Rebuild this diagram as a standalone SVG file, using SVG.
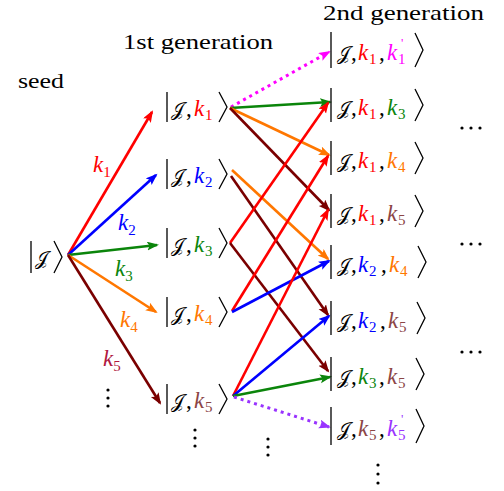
<svg xmlns="http://www.w3.org/2000/svg" width="504" height="491" viewBox="0 0 504 491">
<style>
text{font-family:'Liberation Serif','Times New Roman',Times,serif;fill:#000}
.h{font-size:22px}
.kt{font-size:23px}
.J{font-family:'DejaVu Serif','DejaVu Sans',serif;font-size:19px}
.k{font-style:italic}
.sb{font-size:15px}
.pr{font-size:13px}
.dl{stroke:#000;stroke-width:1.3;fill:none}
.ln{stroke-width:2.6;fill:none}
.dt{stroke-width:3;fill:none;stroke-dasharray:3 4}
.r{stroke:#ff0000}.b{stroke:#0000ff}.g{stroke:#0b850b}.o{stroke:#ff7700}.d{stroke:#7a0000}.m{stroke:#ff00ff}.p{stroke:#9933ff}
.dot{fill:#000}
</style>
<defs>
<marker id="aR" markerUnits="userSpaceOnUse" markerWidth="13" markerHeight="10" refX="10" refY="4.5" orient="auto"><path d="M0,0 L12,4.5 L0,9 L2.5,4.5z" fill="#ff0000"/></marker>
<marker id="aB" markerUnits="userSpaceOnUse" markerWidth="13" markerHeight="10" refX="10" refY="4.5" orient="auto"><path d="M0,0 L12,4.5 L0,9 L2.5,4.5z" fill="#0000ff"/></marker>
<marker id="aG" markerUnits="userSpaceOnUse" markerWidth="13" markerHeight="10" refX="10" refY="4.5" orient="auto"><path d="M0,0 L12,4.5 L0,9 L2.5,4.5z" fill="#0b850b"/></marker>
<marker id="aO" markerUnits="userSpaceOnUse" markerWidth="13" markerHeight="10" refX="10" refY="4.5" orient="auto"><path d="M0,0 L12,4.5 L0,9 L2.5,4.5z" fill="#ff7700"/></marker>
<marker id="aD" markerUnits="userSpaceOnUse" markerWidth="13" markerHeight="10" refX="10" refY="4.5" orient="auto"><path d="M0,0 L12,4.5 L0,9 L2.5,4.5z" fill="#7a0000"/></marker>
<marker id="aM" markerUnits="userSpaceOnUse" markerWidth="13" markerHeight="10" refX="10" refY="4.5" orient="auto"><path d="M0,0 L12,4.5 L0,9 L2.5,4.5z" fill="#ff00ff"/></marker>
<marker id="aP" markerUnits="userSpaceOnUse" markerWidth="13" markerHeight="10" refX="10" refY="4.5" orient="auto"><path d="M0,0 L12,4.5 L0,9 L2.5,4.5z" fill="#9933ff"/></marker>
</defs>

<g id="headings">
<text class="h" x="18" y="88" textLength="46" lengthAdjust="spacingAndGlyphs">seed</text>
<text class="h" x="123" y="49" textLength="150" lengthAdjust="spacingAndGlyphs">1st generation</text>
<text class="h" x="323" y="20" font-size="21" textLength="161" lengthAdjust="spacingAndGlyphs">2nd generation</text>
</g>

<g id="connectors">
<line class="ln r" x1="68" y1="255" x2="152" y2="112" marker-end="url(#aR)"/>
<line class="ln b" x1="68" y1="255" x2="156" y2="175" marker-end="url(#aB)"/>
<line class="ln g" x1="68" y1="255" x2="157" y2="245" marker-end="url(#aG)"/>
<line class="ln o" x1="68" y1="255" x2="156" y2="312" marker-end="url(#aO)"/>
<line class="ln d" x1="68" y1="255" x2="160" y2="403" marker-end="url(#aD)"/>

<line class="dt m" x1="231" y1="107" x2="329" y2="52" marker-end="url(#aM)"/>
<line class="ln g" x1="230" y1="108" x2="330" y2="102" marker-end="url(#aG)"/>
<line class="ln o" x1="230" y1="108" x2="329" y2="155" marker-end="url(#aO)"/>
<line class="ln d" x1="230" y1="108" x2="329" y2="210" marker-end="url(#aD)"/>

<line class="ln o" x1="232" y1="170" x2="328" y2="259" marker-end="url(#aO)"/>
<line class="ln d" x1="231" y1="176" x2="328" y2="315" marker-end="url(#aD)"/>

<line class="ln r" x1="230" y1="243" x2="328" y2="103" marker-end="url(#aR)"/>
<line class="ln d" x1="230" y1="243" x2="328" y2="371" marker-end="url(#aD)"/>

<line class="ln r" x1="232" y1="311" x2="328" y2="156" marker-end="url(#aR)"/>
<line class="ln b" x1="232" y1="312" x2="329" y2="261" marker-end="url(#aB)"/>

<line class="ln r" x1="233" y1="396" x2="328" y2="210" marker-end="url(#aR)"/>
<line class="ln b" x1="233" y1="396" x2="329" y2="316" marker-end="url(#aB)"/>
<line class="ln g" x1="233" y1="396" x2="330" y2="377" marker-end="url(#aG)"/>
<line class="dt p" x1="234" y1="397" x2="329" y2="427" marker-end="url(#aP)"/>
</g>

<g id="seed-labels">
<text class="kt" x="93" y="172"><tspan class="k" fill="#ff0000">k</tspan><tspan class="sb" fill="#ff0000" dy="5">1</tspan></text>
<text class="kt" x="118" y="230"><tspan class="k" fill="#0000ff">k</tspan><tspan class="sb" fill="#0000ff" dy="5">2</tspan></text>
<text class="kt" x="115" y="276"><tspan class="k" fill="#0b850b">k</tspan><tspan class="sb" fill="#0b850b" dy="5">3</tspan></text>
<text class="kt" x="120" y="327"><tspan class="k" fill="#ff7700">k</tspan><tspan class="sb" fill="#ff7700" dy="5">4</tspan></text>
<text class="kt" x="103" y="366"><tspan class="k" fill="#b01840">k</tspan><tspan class="sb" fill="#b01840" dy="5">5</tspan></text>
</g>

<g id="seed">
<path class="dl" d="M31,241 V273 M54,241 L62,257 L54,273"/>
<text class="kt" x="35" y="265"><tspan class="J" font-size="21">𝒥</tspan></text>
</g>

<g id="g1-k1">
<path class="dl" d="M167,92 V122 M219,92 L227,107 L219,122"/>
<text class="kt" x="171" y="116"><tspan class="J">𝒥</tspan><tspan x="186">,</tspan><tspan class="k" x="194" fill="#ff0000">k</tspan><tspan class="sb" x="205" dy="4" fill="#ff0000">1</tspan></text>
</g>
<g id="g1-k2">
<path class="dl" d="M167,159 V189 M219,159 L227,174 L219,189"/>
<text class="kt" x="171" y="183"><tspan class="J">𝒥</tspan><tspan x="186">,</tspan><tspan class="k" x="194" fill="#0000ff">k</tspan><tspan class="sb" x="205" dy="4" fill="#0000ff">2</tspan></text>
</g>
<g id="g1-k3">
<path class="dl" d="M167,228 V258 M219,228 L227,243 L219,258"/>
<text class="kt" x="171" y="252"><tspan class="J">𝒥</tspan><tspan x="186">,</tspan><tspan class="k" x="194" fill="#0b850b">k</tspan><tspan class="sb" x="205" dy="4" fill="#0b850b">3</tspan></text>
</g>
<g id="g1-k4">
<path class="dl" d="M167,297 V327 M219,297 L227,312 L219,327"/>
<text class="kt" x="171" y="321"><tspan class="J">𝒥</tspan><tspan x="186">,</tspan><tspan class="k" x="194" fill="#ff7700">k</tspan><tspan class="sb" x="205" dy="4" fill="#ff7700">4</tspan></text>
</g>
<g id="g1-k5">
<path class="dl" d="M167,384 V414 M219,384 L227,399 L219,414"/>
<text class="kt" x="171" y="408"><tspan class="J">𝒥</tspan><tspan x="186">,</tspan><tspan class="k" x="194" fill="#8b4545">k</tspan><tspan class="sb" x="205" dy="4" fill="#8b4545">5</tspan></text>
</g>

<g id="g2-k1k1p">
<path class="dl" d="M331,32 V68 M415,33 L423,50 L415,67"/>
<text class="kt" x="337" y="60"><tspan class="J">𝒥</tspan><tspan x="351">,</tspan><tspan class="k" x="358" fill="#ff0000">k</tspan><tspan class="sb" x="369" dy="4" fill="#ff0000">1</tspan><tspan x="379" dy="-4">,</tspan><tspan class="k" x="387" fill="#ff00ff">k</tspan><tspan class="sb" x="398" dy="4" fill="#ff00ff">1</tspan><tspan class="pr" x="401" dy="-17" fill="#ff00ff">'</tspan></text>
</g>
<g id="g2-k1k3">
<path class="dl" d="M331,88 V122 M415,89 L423,105 L415,121"/>
<text class="kt" x="337" y="115"><tspan class="J">𝒥</tspan><tspan x="351">,</tspan><tspan class="k" x="358" fill="#ff0000">k</tspan><tspan class="sb" x="369" dy="4" fill="#ff0000">1</tspan><tspan x="379" dy="-4">,</tspan><tspan class="k" x="387" fill="#0b850b">k</tspan><tspan class="sb" x="398" dy="4" fill="#0b850b">3</tspan></text>
</g>
<g id="g2-k1k4">
<path class="dl" d="M331,141 V175 M415,142 L423,158 L415,174"/>
<text class="kt" x="337" y="168"><tspan class="J">𝒥</tspan><tspan x="351">,</tspan><tspan class="k" x="358" fill="#ff0000">k</tspan><tspan class="sb" x="369" dy="4" fill="#ff0000">1</tspan><tspan x="379" dy="-4">,</tspan><tspan class="k" x="387" fill="#ff7700">k</tspan><tspan class="sb" x="398" dy="4" fill="#ff7700">4</tspan></text>
</g>
<g id="g2-k1k5">
<path class="dl" d="M331,194 V228 M415,195 L423,211 L415,227"/>
<text class="kt" x="337" y="221"><tspan class="J">𝒥</tspan><tspan x="351">,</tspan><tspan class="k" x="358" fill="#ff0000">k</tspan><tspan class="sb" x="369" dy="4" fill="#ff0000">1</tspan><tspan x="379" dy="-4">,</tspan><tspan class="k" x="387" fill="#8b4545">k</tspan><tspan class="sb" x="398" dy="4" fill="#8b4545">5</tspan></text>
</g>
<g id="g2-k2k4">
<path class="dl" d="M331,245 V279 M418,246 L426,262 L418,278"/>
<text class="kt" x="337" y="272"><tspan class="J">𝒥</tspan><tspan x="351">,</tspan><tspan class="k" x="358" fill="#0000ff">k</tspan><tspan class="sb" x="369" dy="4" fill="#0000ff">2</tspan><tspan x="381" dy="-4">,</tspan><tspan class="k" x="389" fill="#ff7700">k</tspan><tspan class="sb" x="400" dy="4" fill="#ff7700">4</tspan></text>
</g>
<g id="g2-k2k5">
<path class="dl" d="M331,301 V335 M417,302 L425,318 L417,334"/>
<text class="kt" x="337" y="328"><tspan class="J">𝒥</tspan><tspan x="351">,</tspan><tspan class="k" x="358" fill="#0000ff">k</tspan><tspan class="sb" x="369" dy="4" fill="#0000ff">2</tspan><tspan x="380" dy="-4">,</tspan><tspan class="k" x="388" fill="#8b4545">k</tspan><tspan class="sb" x="399" dy="4" fill="#8b4545">5</tspan></text>
</g>
<g id="g2-k3k5">
<path class="dl" d="M331,357 V391 M416,358 L424,374 L416,390"/>
<text class="kt" x="337" y="384"><tspan class="J">𝒥</tspan><tspan x="351">,</tspan><tspan class="k" x="358" fill="#0b850b">k</tspan><tspan class="sb" x="369" dy="4" fill="#0b850b">3</tspan><tspan x="379" dy="-4">,</tspan><tspan class="k" x="387" fill="#8b4545">k</tspan><tspan class="sb" x="398" dy="4" fill="#8b4545">5</tspan></text>
</g>
<g id="g2-k5k5p">
<path class="dl" d="M331,407 V445 M416,409 L424,426 L416,443"/>
<text class="kt" x="337" y="436"><tspan class="J">𝒥</tspan><tspan x="351">,</tspan><tspan class="k" x="358" fill="#8b4545">k</tspan><tspan class="sb" x="369" dy="4" fill="#8b4545">5</tspan><tspan x="379" dy="-4">,</tspan><tspan class="k" x="387" fill="#9933ff">k</tspan><tspan class="sb" x="398" dy="4" fill="#9933ff">5</tspan><tspan class="pr" x="401" dy="-17" fill="#9933ff">'</tspan></text>
</g>

<g id="ellipses">
<circle class="dot" cx="108" cy="390" r="1.6"/><circle class="dot" cx="108" cy="398" r="1.6"/><circle class="dot" cx="108" cy="406" r="1.6"/>
<circle class="dot" cx="195" cy="430" r="1.6"/><circle class="dot" cx="195" cy="438" r="1.6"/><circle class="dot" cx="195" cy="446" r="1.6"/>
<circle class="dot" cx="268" cy="439" r="1.6"/><circle class="dot" cx="268" cy="447" r="1.6"/><circle class="dot" cx="268" cy="455" r="1.6"/>
<circle class="dot" cx="378" cy="465" r="1.6"/><circle class="dot" cx="378" cy="474" r="1.6"/><circle class="dot" cx="378" cy="483" r="1.6"/>
<circle class="dot" cx="462" cy="128" r="1.6"/><circle class="dot" cx="471" cy="128" r="1.6"/><circle class="dot" cx="480" cy="128" r="1.6"/>
<circle class="dot" cx="462" cy="244" r="1.6"/><circle class="dot" cx="471" cy="244" r="1.6"/><circle class="dot" cx="480" cy="244" r="1.6"/>
<circle class="dot" cx="462" cy="352" r="1.6"/><circle class="dot" cx="471" cy="352" r="1.6"/><circle class="dot" cx="480" cy="352" r="1.6"/>
</g>
</svg>
